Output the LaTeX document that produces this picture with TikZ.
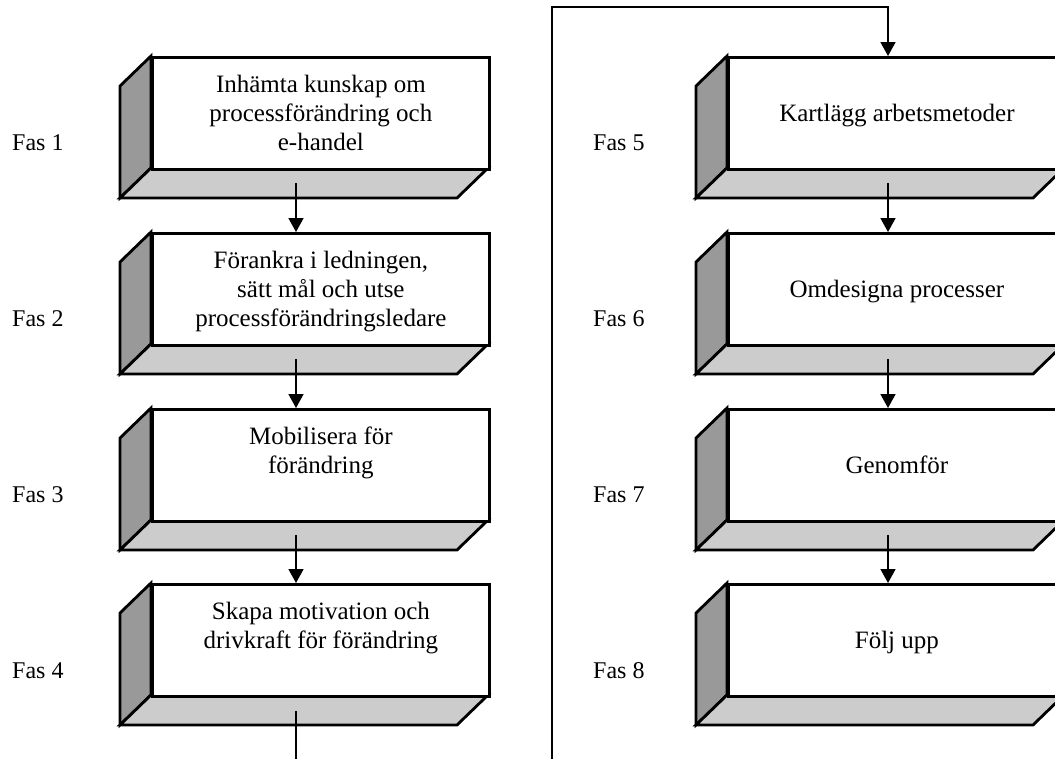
\documentclass[tikz,border=0pt]{standalone}
\usepackage{fontspec}
\setmainfont{Liberation Serif}
\usetikzlibrary{arrows.meta,calc}
\definecolor{sidegray}{HTML}{999999}
\definecolor{botgray}{HTML}{CCCCCC}
\newcommand\fasbox[3]{% name, x of front left, y of front top
  \draw[face,fill=sidegray] (#2,#3) -- ++(-31,30) -- ++(0,112) -- ++(31,-30) -- cycle;
  \draw[face,fill=botgray] (#2,#3+112) -- ++(-31,30) -- ++(337,0) -- ++(31,-30) -- cycle;
  \node[front] (#1) at (#2,#3) {};
}
\begin{document}
\begin{tikzpicture}[x=1pt,y=-1pt,
  face/.style={draw,line width=2.8pt,line join=miter},
  front/.style={draw,line width=2.8pt,fill=white,minimum width=337pt,minimum height=112pt,inner sep=0pt,anchor=north west},
  boxtext/.style={font=\fontsize{25}{29}\selectfont,align=center,inner sep=0pt},
  faslabel/.style={font=\fontsize{24}{29}\selectfont,inner sep=0pt,anchor=base west},
  conn/.style={draw,line width=1.6pt},
  arr/.style={conn,-{Triangle[length=14pt,width=15pt]}}
]
\useasboundingbox (0,0) rectangle (1055,758);
\clip (0,0) rectangle (1055,758);

% left column
\fasbox{b1}{151}{56}
\fasbox{b2}{151}{232}
\fasbox{b3}{151}{408}
\fasbox{b4}{151}{583}
% right column
\fasbox{b5}{727}{56}
\fasbox{b6}{727}{232}
\fasbox{b7}{727}{408}
\fasbox{b8}{727}{583}

% texts
\node[boxtext,anchor=north] (t1) at ($(b1.north)+(0,16)$) {\strut Inhämta kunskap om\\processförändring och\\e-handel};
\node[boxtext,anchor=north] (t2) at ($(b2.north)+(0,16)$) {\strut Förankra i ledningen,\\sätt mål och utse\\processförändringsledare};
\node[boxtext,anchor=north] (t3) at ($(b3.north)+(0,16)$) {\strut Mobilisera för\\förändring};
\node[boxtext,anchor=north] (t4) at ($(b4.north)+(0,16)$) {\strut Skapa motivation och\\drivkraft för förändring};
\node[boxtext,anchor=base] (t5) at ($(b5.north)+(0,65)$) {Kartlägg arbetsmetoder};
\node[boxtext,anchor=base] (t6) at ($(b6.north)+(0,65)$) {Omdesigna processer};
\node[boxtext,anchor=base] (t7) at ($(b7.north)+(0,65)$) {Genomför};
\node[boxtext,anchor=base] (t8) at ($(b8.north)+(0,65)$) {Följ upp};

% phase labels
\node[faslabel] (f1) at (12,150) {Fas 1};
\node[faslabel] (f2) at (12,326) {Fas 2};
\node[faslabel] (f3) at (12,502) {Fas 3};
\node[faslabel] (f4) at (12,678) {Fas 4};
\node[faslabel] (f5) at (593,150) {Fas 5};
\node[faslabel] (f6) at (593,326) {Fas 6};
\node[faslabel] (f7) at (593,502) {Fas 7};
\node[faslabel] (f8) at (593,678) {Fas 8};

% connectors
\coordinate (a1) at (296,183);
\coordinate (a2) at (296,359);
\coordinate (a3) at (296,535);
\coordinate (a4) at (296,711);
\coordinate (a5) at (888,183);
\coordinate (a6) at (888,359);
\coordinate (a7) at (888,535);
\draw[arr] (a1) -- (a1 |- b2.north);
\draw[arr] (a2) -- (a2 |- b3.north);
\draw[arr] (a3) -- (a3 |- b4.north);
\draw[arr] (a5) -- (a5 |- b6.north);
\draw[arr] (a6) -- (a6 |- b7.north);
\draw[arr] (a7) -- (a7 |- b8.north);
\coordinate (e1) at (296,760);
\coordinate (e2) at (552,760);
\coordinate (c5) at (888,7);
\draw[conn] (a4) -- (e1);
\draw[arr] (e2) |- (c5) -- (c5 |- b5.north);
\end{tikzpicture}
\end{document}
